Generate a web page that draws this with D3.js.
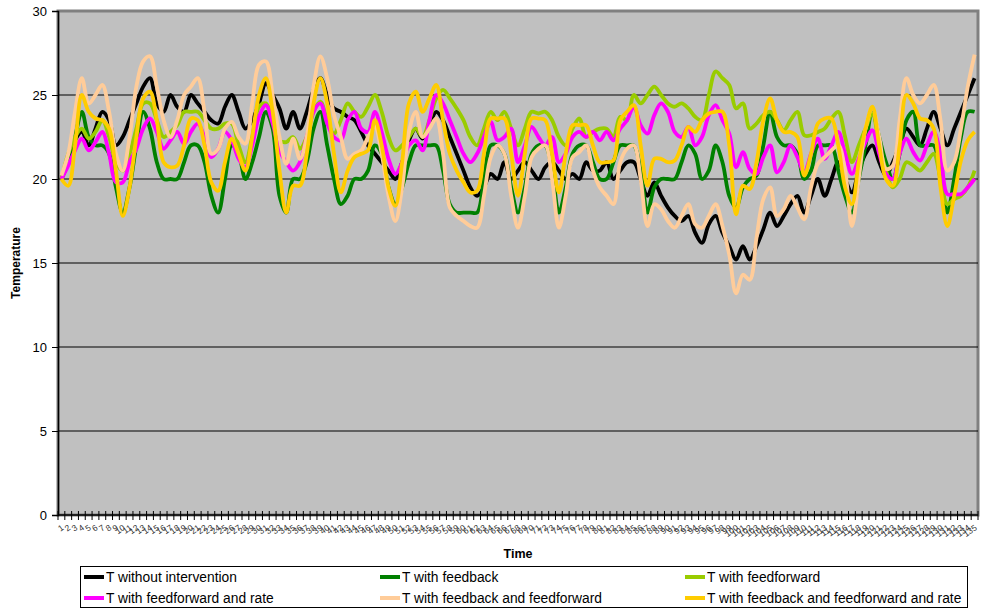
<!DOCTYPE html>
<html>
<head>
<meta charset="utf-8">
<script src="https://cdn.jsdelivr.net/npm/d3@7"></script>
<style>
  body { margin: 0; background: #fff; }
  svg { font-family: "Liberation Sans", Arial, sans-serif; }
</style>
</head>
<body>
<div id="chart"></div>
<script>
let width = 986,
    height = 610;

// time steps 1..135
let categories = d3.range(1, 136);

let yTicks = [0, 5, 10, 15, 20, 25, 30];

let seriesNames = [
  "T without intervention",
  "T with feedback",
  "T with feedforward",
  "T with feedforward and rate",
  "T with feedback and feedforward",
  "T with feedback and feedforward and rate"
];

let seriesColors = ["#000000", "#008000", "#99CC00", "#FF00FF", "#FFCC99", "#FFCC00"];

let tNoIntervention = [
  20, 21, 22.3, 22.8, 22, 23, 24, 23.5, 22, 22.5,
  23.5, 24.5, 25.5, 26, 24.5, 24, 25, 24.3, 24, 25,
  24.5, 24, 23.5, 23.3, 24.3, 25, 24, 23, 23.5, 24.5,
  25.7, 25, 24.2, 23, 24, 23, 24, 25.3, 26, 25,
  24.2, 24, 23.7, 23.5, 22.8, 22, 21.5, 21, 20.5, 20,
  21, 22.3, 23, 22.4, 23.2, 24, 23.5, 22.5, 21.5, 20.5,
  19.5, 19, 19.5, 20.3, 20, 21, 20, 20.5, 21, 20.5,
  20, 20.7, 21, 20.5, 20, 20.3, 20, 21, 20.5, 20.5,
  21, 20, 20.5, 21, 21, 20, 19, 19.8, 19, 18.3,
  17.8, 17.5, 17.8, 16.8, 16.2, 17.3, 17.8, 16.8, 16, 15.2,
  16, 15.2, 16, 17, 18, 17.2, 17.8, 18.5, 19, 18,
  19, 20, 19, 20, 21, 20, 19.2, 20.5, 21.5, 22,
  21, 20.2, 21, 22, 23, 22.5, 22, 23, 24, 23,
  22, 23, 24, 25, 26
];

let tFeedback = [
  20, 21, 22.5, 24, 22.5, 22, 22, 21.5, 19.5, 18,
  19.5, 22, 24, 23, 21, 20, 20, 20, 21, 22,
  22, 21, 19, 18, 20, 22, 21.5, 20, 21, 22.5,
  24, 23, 19, 18, 20, 20, 21, 23, 24, 22,
  20, 18.5, 19, 20, 20, 20.5, 22, 21.5, 19.5, 18.5,
  19.5, 21, 22, 22, 22, 22, 20.5, 18.5, 18, 18,
  18, 18, 20, 22, 22, 21.5, 19.5, 18, 19.5, 21.5,
  22, 22, 20.5, 18, 19.5, 21.5, 22, 22, 21, 20,
  20, 21, 22, 22, 22, 20.5, 18, 19.5, 20, 20,
  20, 21, 22, 21.5, 20, 20.5, 22, 21, 19, 18.3,
  19.5, 20, 20.2, 22, 24, 22.5, 22, 22, 21.5, 20,
  20.5, 22, 22, 22, 20.5, 19, 18, 20, 22, 24,
  22.5, 21, 20, 21.5, 23.5, 24, 22, 22, 22, 20,
  18, 20, 22.5, 24, 24
];

let tFeedforward = [
  20, 21.5, 22.5, 23, 22.4, 22.8, 23.5, 22.5, 21, 20.5,
  21.5, 23, 24.5, 24.5, 23.5, 22.5, 22.8, 23.2, 24, 24,
  24, 23.5, 23, 23, 23.3, 23.3, 22, 21, 22.5, 24.3,
  24.5, 23.5, 22.3, 22.2, 22.5, 21.8, 22.5, 24, 24.6, 23.5,
  22.7, 23.5, 24.5, 24, 23.7, 24.3, 25, 24, 22.5, 21.7,
  22, 22.5, 23, 22.5, 23.5, 24.8, 25.3, 24.8, 24.2, 23.5,
  22.5, 22, 23, 24, 23.5, 24, 23, 22, 23, 24,
  23.9, 24, 23.5, 22.5, 22, 23, 23.6, 22.5, 22.8, 23,
  23, 22.5, 23.7, 23.5, 25, 24.5, 25, 25.5, 25, 24.5,
  24.3, 24.5, 24.2, 23.7, 23.5, 25, 26.4, 26, 25.6, 24.2,
  24.5, 23, 23.3, 23.8, 24, 23.5, 22.9, 23.5, 24, 22.6,
  22.6, 22.8, 23, 23.6, 24, 22.5, 21, 22, 23, 23.9,
  22, 20.5, 19.5, 20, 21, 20.8, 20.5, 21, 21.5, 20,
  18.5, 18.8, 19, 19.5, 20.5
];

let tFeedforwardRate = [
  20, 20.8, 21.7, 22.4, 21.7, 22.2, 22.8, 21.5, 19.8, 19.8,
  21, 21.8, 23, 23.6, 22.8, 21.8, 22.3, 22.8, 22.1, 22.8,
  23.3, 22.5, 21.3, 21.8, 22.8, 22.3, 21.2, 20.7, 22, 23.7,
  24.4, 23.3, 21.7, 21, 20.5, 21, 22.5, 24, 24.5, 23.3,
  22.5, 22.3, 23.5, 24, 23, 22.8, 24, 22.8, 21.2, 20.3,
  21, 22, 22.3, 21.7, 23.5, 25, 24.5, 23.5, 22.5, 21.5,
  21, 21.5, 22.5, 23.4, 22.3, 22.5, 23, 21, 22, 23.1,
  22.5, 22, 22.5, 21, 21.5, 22.5, 22.8, 22.5, 22.8, 22.3,
  22.8, 22.3, 23, 23.5, 24.3, 23.2, 22.7, 23.8, 24.5, 24,
  22.8, 22.5, 23.1, 22, 22.5, 23.8, 24.4, 23.5, 22.7, 20.7,
  21.6, 20.6, 20.3, 21.3, 22, 20.4, 21, 22, 21.3, 20.4,
  21.5, 22.4, 21.2, 22, 22.8, 21.5, 20.3, 21.2, 22.2, 22.9,
  21.5, 20.3, 20, 21.5, 22.4, 21.6, 21.1, 22, 22.8, 21.5,
  19.1, 19.1, 19.1, 19.5, 20
];

let tFeedbackFeedforward = [
  20.2, 21.5, 24, 26, 24.5, 25, 25.6, 24, 21.5, 20.5,
  22.5, 25.5, 27, 27.3, 25.5, 23.5, 22.5, 23.5, 25, 25.5,
  26, 24, 21.5, 21.8, 23, 23.4, 22.5, 22.1, 24.5, 26.8,
  27, 25, 22.5, 20.9, 22.4, 21.2, 22.5, 25.5, 27.3, 26,
  23.8, 22.5, 21.2, 21.5, 21.7, 22.5, 23.1, 21.5, 19, 17.5,
  19.5, 22.8, 24, 22.5, 23, 23.6, 21.5, 18.3, 17.8, 17.5,
  17.2, 17.1, 19, 21.3, 22, 21.5, 19, 17.1, 19, 21.3,
  21.8, 22, 20, 17.1, 19, 21.3, 21.6, 22, 20.5, 19.5,
  19, 18.5, 21, 21.8, 22, 20, 17.2, 18.5, 18.2, 17.5,
  17.1, 17.8, 18.5, 17.3, 17.1, 17.8, 18.5, 17.2, 15.5, 13.2,
  14.3, 14, 16.5, 18.8, 19.5, 17.8, 18.2, 19, 18.3, 17.6,
  19.5, 20.9, 21.3, 21.7, 22, 20.5, 17.2, 20, 23, 24.2,
  22.5, 20.6, 20.8, 23.5, 26, 25, 24.5, 25, 25.6, 23.5,
  20.5, 21, 23, 25.5, 27.4
];

let tFeedbackFeedforwardRate = [
  20, 19.6, 22, 25, 24, 23.6, 23.5, 23, 20.5, 17.8,
  19.5, 22.5, 24.8, 25.2, 23.5, 21, 20.7, 20.8, 22, 23.6,
  23.5, 22, 19.8, 19.3, 21, 22.4, 21.5, 20.5, 22.5, 25,
  26, 24, 20.5, 18, 19.6, 19.6, 21.5, 24.5, 26, 24.5,
  21.5, 19.2, 20.5, 21.3, 21.5, 21.7, 23.5, 22, 19.5, 18.4,
  21, 24.5, 25.2, 24, 24.8, 25.6, 23.5, 21.5, 20.5, 19.8,
  19.2, 19.3, 21.5, 23.6, 23.6, 23.6, 21.5, 19, 21.5, 23.6,
  23.6, 23.5, 21.5, 19.2, 21.5, 23.2, 23.2, 23.2, 22, 21,
  21, 21.1, 23.5, 24, 24.4, 22, 19.6, 21.2, 21.2, 21,
  21.1, 22, 23.1, 22.8, 23.5, 23.9, 24, 24, 22, 17.9,
  19.6, 19.4, 21, 23.5, 24.8, 23.5, 22.8, 22.8, 22.5, 20.2,
  21.5, 23.3, 23.6, 23.6, 22, 19.5, 18.5, 21, 23, 24.3,
  22, 20, 19.6, 22, 25, 24.5, 23.6, 23.5, 23, 19.5,
  17.2, 19, 21.1, 22.3, 22.8
];

let allSeries = [tNoIntervention, tFeedback, tFeedforward,
                 tFeedforwardRate, tFeedbackFeedforward, tFeedbackFeedforwardRate];

let plot = {left: 58, right: 978, top: 11, bottom: 515};

let svg = d3.select("#chart").append("svg")
    .attr("width", width)
    .attr("height", height);

let x = d3.scaleBand()
    .domain(categories)
    .range([plot.left, plot.right]);

let y = d3.scaleLinear()
    .domain([0, 30])
    .range([plot.bottom, plot.top]);

// plot area
svg.append("rect")
    .attr("x", plot.left)
    .attr("y", plot.top)
    .attr("width", plot.right - plot.left)
    .attr("height", plot.bottom - plot.top)
    .attr("fill", "#C0C0C0")
    .attr("stroke", "#808080")
    .attr("stroke-width", 3);

// gridlines
svg.append("g")
  .selectAll("line")
  .data(yTicks.filter(d => d > 0 && d < 30))
  .enter().append("line")
    .attr("x1", plot.left)
    .attr("x2", plot.right)
    .attr("y1", d => y(d))
    .attr("y2", d => y(d))
    .attr("stroke", "#000")
    .attr("stroke-width", 1);

// lines
let line = d3.line()
    .x((d, i) => x(categories[i]) + x.bandwidth() / 2)
    .y(d => y(d))
    .curve(d3.curveCatmullRom.alpha(0.5));

svg.append("g")
  .selectAll("path")
  .data(allSeries)
  .enter().append("path")
    .attr("d", line)
    .attr("fill", "none")
    .attr("stroke", (d, i) => seriesColors[i])
    .attr("stroke-width", 3.8)
    .attr("stroke-linejoin", "round");

// y axis
let yAxis = svg.append("g")
    .attr("transform", "translate(" + plot.left + ",0)")
    .call(d3.axisLeft(y).tickValues(yTicks).tickSize(6).tickPadding(5));
yAxis.select(".domain").attr("stroke", "#000").attr("stroke-width", 1.5);
yAxis.selectAll("text")
    .attr("font-size", 13)
    .attr("font-family", "Liberation Sans, Arial, sans-serif")
    .attr("fill", "#000");

// x axis: ticks at category boundaries
let bounds = categories.map(c => x(c)).concat([plot.right]);
let xAxis = svg.append("g");
xAxis.append("line")
    .attr("x1", plot.left)
    .attr("x2", plot.right)
    .attr("y1", plot.bottom)
    .attr("y2", plot.bottom)
    .attr("stroke", "#000")
    .attr("stroke-width", 1.5);
xAxis.selectAll("line.tick")
  .data(bounds)
  .enter().append("line")
    .attr("class", "tick")
    .attr("x1", d => d)
    .attr("x2", d => d)
    .attr("y1", plot.bottom - 4)
    .attr("y2", plot.bottom + 5)
    .attr("stroke", "#000")
    .attr("stroke-width", 1);
xAxis.selectAll("text")
  .data(categories)
  .enter().append("text")
    .attr("transform", d => "translate(" + (x(d) + x.bandwidth() / 2 + 3) + "," + (plot.bottom + 14) + ") rotate(-35)")
    .attr("text-anchor", "end")
    .attr("font-size", 8.5)
    .attr("fill", "#333")
    .text(d => d);

// axis titles
svg.append("text")
    .attr("transform", "translate(20," + ((plot.top + plot.bottom) / 2) + ") rotate(-90)")
    .attr("text-anchor", "middle")
    .attr("font-size", 12)
    .attr("font-weight", "bold")
    .text("Temperature");

svg.append("text")
    .attr("x", (plot.left + plot.right) / 2)
    .attr("y", 558)
    .attr("text-anchor", "middle")
    .attr("font-size", 12.5)
    .attr("font-weight", "bold")
    .text("Time");

// legend
let legend = svg.append("g");
legend.append("rect")
    .attr("x", 80.5)
    .attr("y", 566.5)
    .attr("width", 887)
    .attr("height", 41)
    .attr("fill", "#fff")
    .attr("stroke", "#000")
    .attr("stroke-width", 1);

let colX = [84, 380, 685];
let rowY = [577, 598];

let items = legend.selectAll("g.item")
  .data(seriesNames)
  .enter().append("g")
    .attr("class", "item")
    .attr("transform", (d, i) => "translate(" + colX[i % 3] + "," + rowY[Math.floor(i / 3)] + ")");

items.append("line")
    .attr("x1", 0)
    .attr("x2", 20)
    .attr("stroke", (d, i) => seriesColors[i])
    .attr("stroke-width", 4);

items.append("text")
    .attr("x", 22)
    .attr("y", 5)
    .attr("font-size", 13.8)
    .text(d => d);
</script>
</body>
</html>
